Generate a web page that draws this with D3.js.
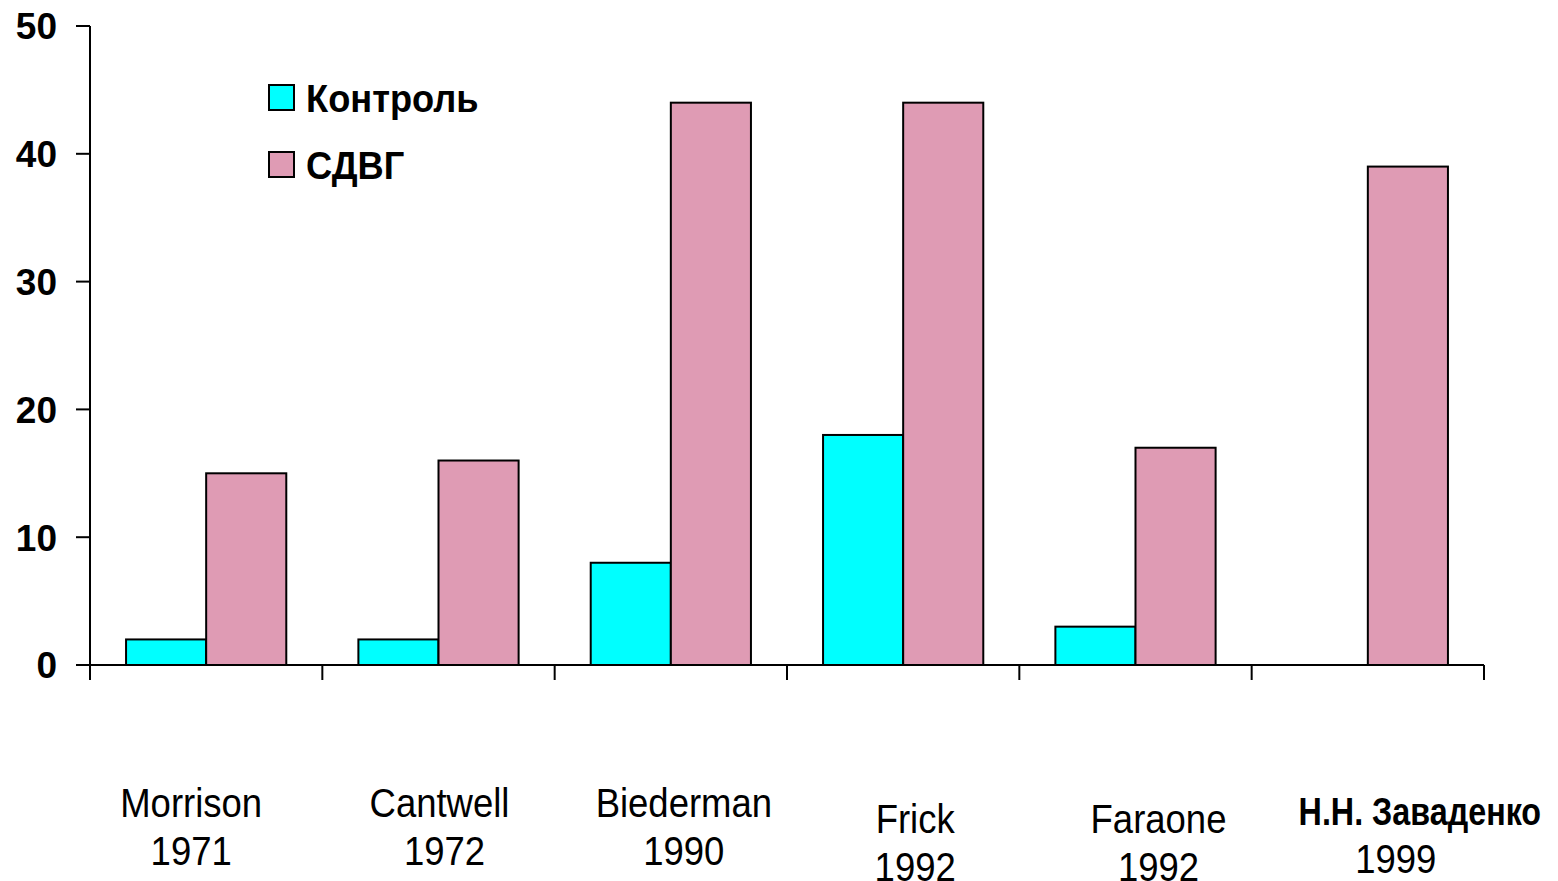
<!DOCTYPE html>
<html>
<head>
<meta charset="utf-8">
<script src="https://cdn.jsdelivr.net/npm/d3@7"></script>
<style>
  body { margin: 0; background: #fff; }
  text { font-family: "Liberation Sans", Arial, sans-serif; }
</style>
</head>
<body>
<svg id="chart" width="1558" height="881"></svg>
<script>
const studies = ['Morrison', 'Cantwell', 'Biederman', 'Frick', 'Faraone', 'Н.Н. Заваденко'];
const years = ['1971', '1972', '1990', '1992', '1992', '1999'];
const control = [2, 2, 8, 18, 3, 0];
const adhd = [15, 16, 44, 44, 17, 39];
const seriesNames = ['Контроль', 'СДВГ'];
const yTicks = [0, 10, 20, 30, 40, 50];

const colors = ['#00ffff', '#df9bb4'];
// label placement tweaks (dx for name, dx for year, dy)
const labelShift = [[-15, -15, 0], [1, 6, 0], [13, 13, 0], [12, 12, 16], [23, 23, 16], [52, 28, 8]];
const narrow = 0.89; // no narrow font installed, squeeze instead

const svg = d3.select('#chart');
const mLeft = 90, mRight = 1484, mTop = 26, mBottom = 665;

const x = d3.scaleBand().domain(d3.range(studies.length)).range([mLeft, mRight]).paddingInner(0).paddingOuter(0);
const y = d3.scaleLinear().domain([0, 50]).range([mBottom, mTop]);
const inner = d3.scaleBand().domain([0, 1]).range([0, x.bandwidth()]).paddingInner(0).paddingOuter(0.45);

const rows = studies.map((s, i) => ({ i, vals: [control[i], adhd[i]] }));

const g = svg.append('g').selectAll('g').data(rows).join('g')
  .attr('transform', d => `translate(${x(d.i)},0)`);
g.selectAll('rect').data(d => d.vals.map((v, k) => ({ v, k })).filter(e => e.v > 0)).join('rect')
  .attr('x', e => inner(e.k))
  .attr('width', inner.bandwidth())
  .attr('y', e => y(e.v))
  .attr('height', e => y(0) - y(e.v))
  .attr('fill', e => colors[e.k])
  .attr('stroke', '#000')
  .attr('stroke-width', 2);

// y axis
svg.append('line').attr('x1', mLeft).attr('x2', mLeft).attr('y1', mTop).attr('y2', mBottom + 15)
  .attr('stroke', '#000').attr('stroke-width', 2);
svg.selectAll('.yt').data(yTicks).join('line')
  .attr('x1', mLeft - 14).attr('x2', mLeft).attr('y1', d => y(d)).attr('y2', d => y(d))
  .attr('stroke', '#000').attr('stroke-width', 2);
svg.selectAll('.yl').data(yTicks).join('text')
  .attr('x', 57).attr('y', d => y(d)).attr('dy', '0.36em')
  .attr('text-anchor', 'end')
  .style('font-weight', 'bold').style('font-size', '37px')
  .text(d => d);

// x axis
svg.append('line').attr('x1', mLeft - 14).attr('x2', mRight).attr('y1', mBottom).attr('y2', mBottom)
  .attr('stroke', '#000').attr('stroke-width', 2);
svg.selectAll('.xt').data(d3.range(studies.length + 1)).join('line')
  .attr('x1', d => mLeft + d * x.bandwidth()).attr('x2', d => mLeft + d * x.bandwidth())
  .attr('y1', mBottom).attr('y2', mBottom + 15)
  .attr('stroke', '#000').attr('stroke-width', 2);

// category labels
const cx = d => x(d.i) + x.bandwidth() / 2;
const lab = svg.append('g').selectAll('g').data(rows).join('g');
lab.append('text')
  .attr('transform', d => `translate(${cx(d) + labelShift[d.i][0]},${817 + labelShift[d.i][2]}) scale(${d.i === 5 ? 0.85 : narrow},1)`)
  .attr('text-anchor', 'middle')
  .style('font-weight', d => d.i === 5 ? 'bold' : 'normal')
  .style('font-size', d => d.i === 5 ? '38px' : '41px')
  .text(d => studies[d.i]);
lab.append('text')
  .attr('transform', d => `translate(${cx(d) + labelShift[d.i][1]},${865 + labelShift[d.i][2]}) scale(${narrow},1)`)
  .attr('text-anchor', 'middle')
  .style('font-size', '41px')
  .text(d => years[d.i]);

// legend
const leg = svg.append('g').selectAll('g').data(seriesNames).join('g')
  .attr('transform', (d, i) => `translate(269,${85 + i * 67})`);
leg.append('rect').attr('width', 25).attr('height', 25)
  .attr('fill', (d, i) => colors[i]).attr('stroke', '#000').attr('stroke-width', 2);
leg.append('text').attr('transform', 'translate(37,27) scale(0.93,1)')
  .style('font-weight', 'bold').style('font-size', '39px')
  .text(d => d);
</script>
</body>
</html>
